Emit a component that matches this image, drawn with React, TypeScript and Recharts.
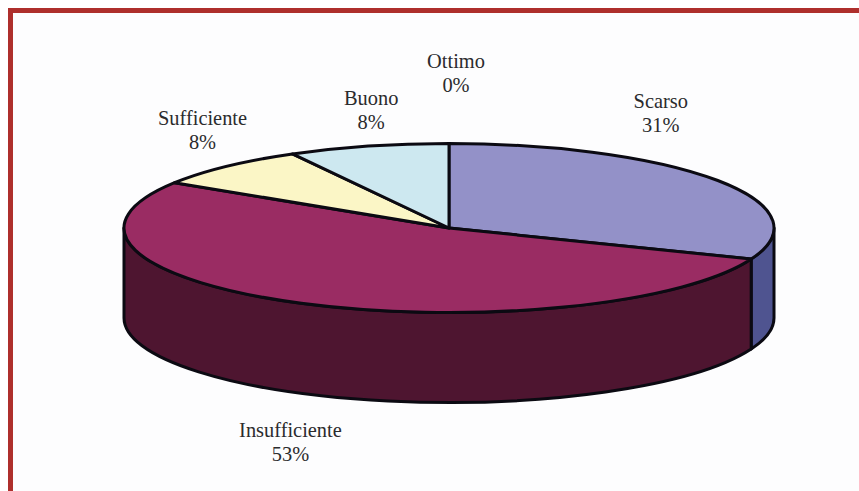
import { PieChart, Pie } from 'recharts';

const categories = ['Scarso', 'Insufficiente', 'Sufficiente', 'Buono', 'Ottimo'];
const percentages = [31, 53, 8, 8, 0];
const topColors = ['#9391c8', '#9a2c63', '#fbf6c6', '#cde8f0', '#ffffff'];
const wallColors = ['#4f5490', '#4e1530', '#c9c49a', '#a0bcc4', '#cccccc'];

// label shift away from the rim point of each slice
const labelNudges = [
  [-57, -68],
  [-11, 139],
  [-24, -36],
  [3, -36],
  [7, -71],
];

const data = categories.map((name, i) => ({
  name,
  value: percentages[i],
  fill: topColors[i],
  wall: wallColors[i],
}));

const TILT = 0.26; // ry / rx of the tilted disc
const DEPTH = 90;
const OUTLINE = '#0b0a12';
const OUTLINE_WIDTH = 3;
const RAD = Math.PI / 180;

const rimPoint = (cx: number, cy: number, r: number, angle: number) => ({
  x: cx + r * Math.cos(angle * RAD),
  y: cy - r * TILT * Math.sin(angle * RAD),
});

function DiscSlice(props: any) {
  const { cx, cy, outerRadius: r, startAngle, endAngle, fill, payload } = props;
  if (startAngle === endAngle) return null;

  const ry = r * TILT;
  const a = rimPoint(cx, cy, r, startAngle);
  const b = rimPoint(cx, cy, r, endAngle);
  const large = Math.abs(startAngle - endAngle) > 180 ? 1 : 0;
  const top = `M${cx},${cy} L${a.x},${a.y} A${r},${ry} 0 ${large} 1 ${b.x},${b.y} Z`;

  // only the front half of the rim shows a side wall
  const wallStart = Math.min(startAngle, 0);
  const wallEnd = Math.max(endAngle, -180);
  let wall = null;
  if (wallStart > wallEnd) {
    const w1 = rimPoint(cx, cy, r, wallStart);
    const w2 = rimPoint(cx, cy, r, wallEnd);
    const d =
      `M${w1.x},${w1.y} A${r},${ry} 0 0 1 ${w2.x},${w2.y} ` +
      `L${w2.x},${w2.y + DEPTH} A${r},${ry} 0 0 0 ${w1.x},${w1.y + DEPTH} Z`;
    wall = <path d={d} fill={payload?.wall ?? fill} stroke={OUTLINE} strokeWidth={OUTLINE_WIDTH} strokeLinejoin="round" />;
  }

  return (
    <g>
      {wall}
      <path d={top} fill={fill} stroke={OUTLINE} strokeWidth={OUTLINE_WIDTH} strokeLinejoin="round" />
    </g>
  );
}

function SliceLabel(props: any) {
  const { cx, cy, outerRadius, midAngle, index } = props;
  const p = rimPoint(cx, cy, outerRadius, midAngle);
  const x = p.x + labelNudges[index][0];
  const y = p.y + labelNudges[index][1];
  return (
    <text
      x={x}
      y={y}
      textAnchor="middle"
      fontFamily="'Liberation Serif', serif"
      fontSize={20.4}
      fill="#2b2b2d"
    >
      <tspan x={x} dy={-5}>{categories[index]}</tspan>
      <tspan x={x} dy={24}>{percentages[index]}%</tspan>
    </text>
  );
}

export default function App() {
  return (
    <div
      style={{
        position: 'fixed',
        inset: '8px 0 0 8px',
        borderTop: '5px solid #ae2f2c',
        borderLeft: '5px solid #ae2f2c',
        background: '#fdfdfe',
      }}
    >
      <PieChart width={846} height={478} margin={{ top: 0, right: 0, bottom: 0, left: 0 }}>
        <Pie
          data={data}
          dataKey="value"
          nameKey="name"
          cx={436}
          cy={215}
          outerRadius={325}
          startAngle={90}
          endAngle={-270}
          stroke="none"
          shape={DiscSlice}
          label={SliceLabel}
          labelLine={false}
          isAnimationActive={false}
        />
      </PieChart>
    </div>
  );
}
